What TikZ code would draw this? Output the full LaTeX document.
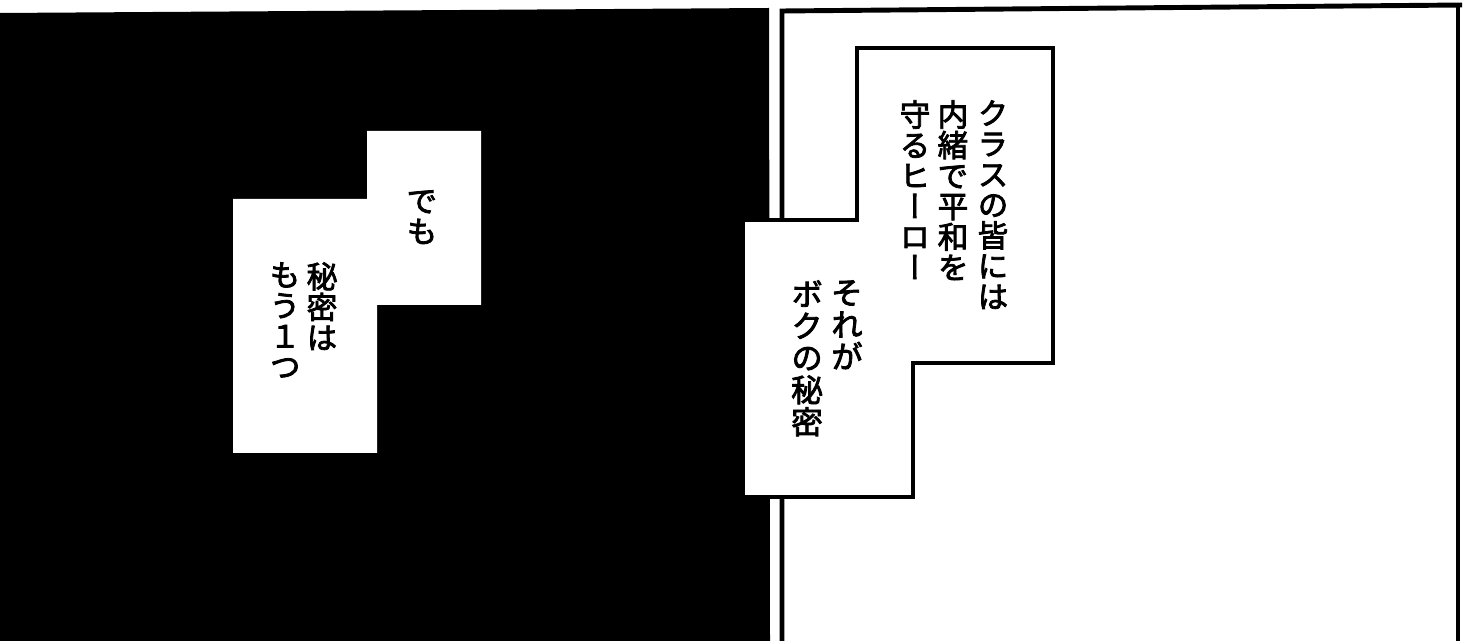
\documentclass[tikz,border=0pt]{standalone}
\usepackage{fontspec}
\newfontfamily\jpfont[RawFeature={+vert},FakeBold=2.5]{Noto Sans CJK JP}
\usetikzlibrary{positioning}
\def\border{2.8pt}
\def\pitch{17.4pt}
\def\pitchb{18.2pt}
\def\tightlines{\lineskiplimit=-20pt\relax}

\begin{document}
\begin{tikzpicture}[x=0.02cm,y=-0.02cm,
    vtext/.style={anchor=north,inner sep=0pt,align=center,font=\jpfont\fontsize{17.5pt}{\pitch}\selectfont\tightlines},
    vtextb/.style={vtext,font=\jpfont\fontsize{18pt}{\pitchb}\selectfont\tightlines}]
\useasboundingbox (0,0) rectangle (1477,641);

% Left panel (black)
\fill[black] (0,13) -- (769,8) -- (770,641) -- (0,641) -- cycle;

% Right panel frame
\draw[line width=\border] (782,641) -- (782,11) -- (1462,5); % left and top border
\draw[line width=\border] (1458,6) -- (1458,641); % right border

% Left balloon
\fill[white] (367,131) -- (481,131) -- (481,305) -- (377,305) -- (377,453) -- (233,453) -- (233,199) -- (367,199) -- cycle;

% Right balloon
\filldraw[fill=white,line width=\border,line join=miter] (857,48) -- (1053,48) -- (1053,363) -- (913,363) -- (913,497) -- (743,497) -- (743,220) -- (857,220) -- cycle;

% Texts in left balloon
\node[vtext] (demo) at (422,190) {で\\も};
\node[vtext] (himitsu) at (322,262) {秘\\密\\は};
\node[vtext] (mouhitotsu) at (285,262) {も\\う\\１\\つ};

% Texts in right balloon
\node[vtext] (kurasu) at (993,100) {ク\\ラ\\ス\\の\\皆\\に\\は};
\node[vtext] (naisho) at (953,100) {内\\緒\\で\\平\\和\\を};
\node[vtext] (mamoru) at (915,100) {守\\る\\ヒ\\ー\\ロ\\ー};
\node[vtextb] (sorega) at (847,280) {そ\\れ\\が};
\node[vtextb] (boku) at (807,280) {ボ\\ク\\の\\秘\\密};

\end{tikzpicture}
\end{document}
